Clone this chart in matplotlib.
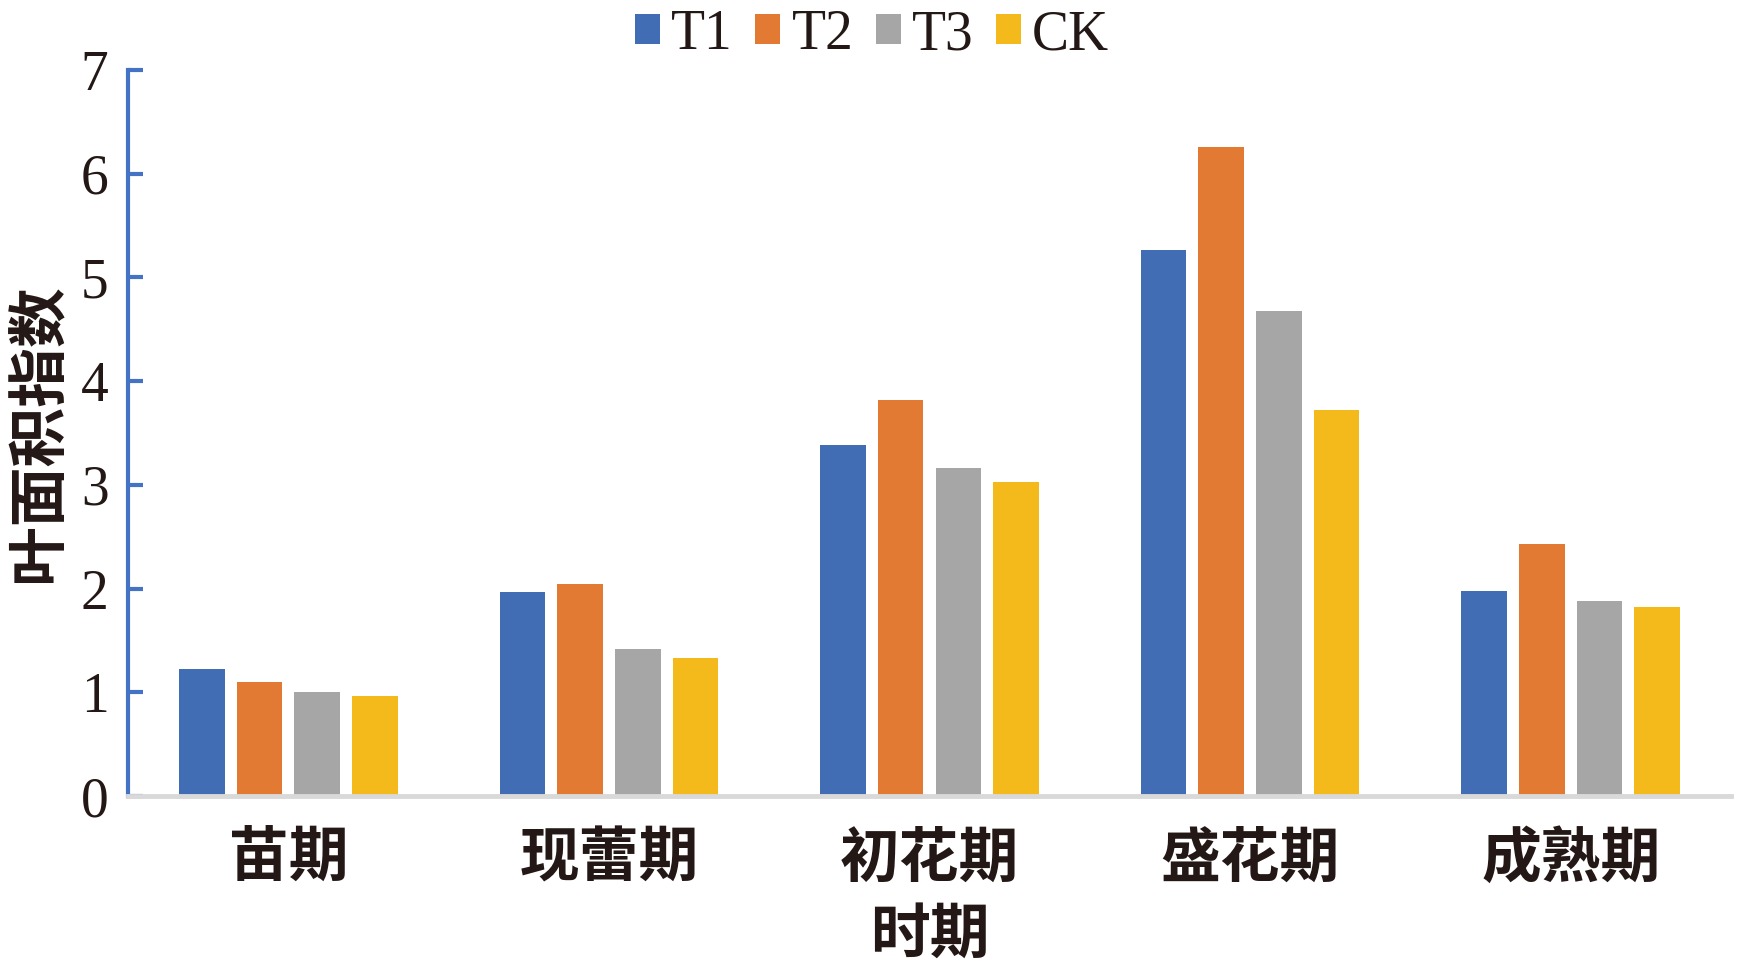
import matplotlib
matplotlib.use("Agg")
import matplotlib.pyplot as plt
import numpy as np

periods = ["苗期", "现蕾期", "初花期", "盛花期", "成熟期"]
series = ["T1", "T2", "T3", "CK"]
t1 = [1.22, 1.97, 3.38, 5.26, 1.98]
t2 = [1.10, 2.04, 3.82, 6.26, 2.43]
t3 = [1.00, 1.42, 3.16, 4.68, 1.88]
ck = [0.96, 1.33, 3.03, 3.72, 1.82]
colors = ["#416DB4", "#E37A33", "#A6A6A6", "#F4BA1C"]

serif = ["Liberation Serif", "DejaVu Serif"]
cjk = ["Noto Sans CJK SC", "DejaVu Sans"]

fig = plt.figure(figsize=(17.44, 9.72), dpi=100)
W, H = 1744, 972
ax = fig.add_axes([128 / W, 1 - 796 / H, (1731 - 128) / W, (796 - 70) / H])

x = np.arange(len(periods))
pitch = 0.18
width = 0.142
for i, (name, vals) in enumerate(zip(series, [t1, t2, t3, ck])):
    ax.bar(x + (i - 1.5) * pitch, vals, width, color=colors[i], label=name, zorder=2)

ax.set_xlim(-0.5, 4.5)
ax.set_ylim(0, 7)
ax.set_yticks(range(0, 8))
ax.set_yticklabels([str(v) for v in range(0, 8)], family=serif, fontsize=40, color="#231815")
ax.set_xticks(x)
ax.set_xticklabels(periods, family=cjk, fontsize=43, weight="bold", color="#231815")
ax.tick_params(axis="x", length=0, pad=24)
ax.tick_params(axis="y", direction="in", length=11, width=3, color="#4472C4", pad=14)

for s in ["top", "right"]:
    ax.spines[s].set_visible(False)
ax.spines["left"].set_color("#4472C4")
ax.spines["left"].set_linewidth(3)
ax.spines["bottom"].set_color("#D9D9D9")
ax.spines["bottom"].set_linewidth(3.5)

ax.set_ylabel("叶面积指数", family=cjk, fontsize=43, weight="bold", color="#231815", labelpad=8)
ax.set_xlabel("时期", family=cjk, fontsize=43, weight="bold", color="#231815", labelpad=12)

leg = fig.legend(loc="center", bbox_to_anchor=(0.5, 1 - 35 / H), ncol=4, frameon=False,
                 prop={"family": serif, "size": 40}, handlelength=0.45, handleheight=0.45,
                 handletextpad=0.2, columnspacing=0.4)
for t in leg.get_texts():
    t.set_color("#231815")

fig.savefig("out.png", dpi=100)
